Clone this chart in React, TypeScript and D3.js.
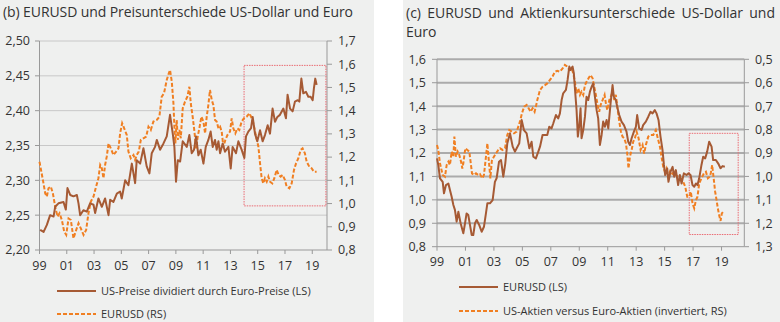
import React, { useMemo } from 'react';
import * as d3 from 'd3';

// ---------- DATA ----------
const xTickYears = [1999, 2001, 2003, 2005, 2007, 2009, 2011, 2013, 2015, 2017, 2019];
const xTickLabels = ['99', '01', '03', '05', '07', '09', '11', '13', '15', '17', '19'];

const leftTicksLS = [2.2, 2.25, 2.3, 2.35, 2.4, 2.45, 2.5];
const leftTicksRS = [0.8, 0.9, 1.0, 1.1, 1.2, 1.3, 1.4, 1.5, 1.6, 1.7];
const rightTicksLS = [0.8, 0.9, 1.0, 1.1, 1.2, 1.3, 1.4, 1.5, 1.6];
const rightTicksRS = [0.5, 0.6, 0.7, 0.8, 0.9, 1.0, 1.1, 1.2, 1.3];

const titleB = '(b) EURUSD und Preisunterschiede US-Dollar und Euro';
const titleC1 = '(c) EURUSD und Aktienkursunterschiede US-Dollar und';
const titleC2 = 'Euro';
const legendB = ['US-Preise dividiert durch Euro-Preise (LS)', 'EURUSD (RS)'];
const legendC = ['EURUSD (LS)', 'US-Aktien versus Euro-Aktien (invertiert, RS)'];

// (b) US prices / Euro prices (LS)
const priceRatio: [number, number][] = [
  [1999.05, 2.229], [1999.3, 2.226], [1999.54, 2.236], [1999.78, 2.25], [2000.03, 2.248], [2000.15, 2.262],
  [2000.39, 2.267], [2000.76, 2.269], [2000.93, 2.258], [2001.05, 2.289], [2001.25, 2.279], [2001.49, 2.277],
  [2001.74, 2.279], [2001.86, 2.267], [2001.98, 2.25], [2002.22, 2.257], [2002.47, 2.255], [2002.71, 2.267],
  [2002.96, 2.265], [2003.08, 2.253], [2003.32, 2.274], [2003.57, 2.262], [2003.81, 2.274], [2004.06, 2.25],
  [2004.18, 2.272], [2004.42, 2.269], [2004.67, 2.281], [2004.91, 2.284], [2005.03, 2.274], [2005.28, 2.3],
  [2005.52, 2.293], [2005.77, 2.324], [2006.01, 2.296], [2006.13, 2.329], [2006.38, 2.324], [2006.62, 2.346],
  [2006.86, 2.32], [2007.06, 2.31], [2007.23, 2.339], [2007.47, 2.348], [2007.6, 2.358], [2007.84, 2.344],
  [2008.09, 2.353], [2008.33, 2.363], [2008.57, 2.394], [2008.77, 2.367], [2008.89, 2.348], [2009.01, 2.298],
  [2009.14, 2.329], [2009.31, 2.327], [2009.5, 2.356], [2009.8, 2.348], [2009.99, 2.365], [2010.16, 2.339],
  [2010.33, 2.344], [2010.48, 2.363], [2010.65, 2.336], [2010.82, 2.344], [2011.02, 2.324], [2011.19, 2.348],
  [2011.38, 2.358], [2011.55, 2.37], [2011.7, 2.348], [2011.87, 2.358], [2011.99, 2.344], [2012.12, 2.356],
  [2012.24, 2.339], [2012.43, 2.353], [2012.6, 2.341], [2012.85, 2.348], [2013.02, 2.317], [2013.16, 2.348],
  [2013.41, 2.339], [2013.58, 2.356], [2013.82, 2.344], [2014.02, 2.332], [2014.14, 2.363], [2014.31, 2.37],
  [2014.51, 2.375], [2014.63, 2.391], [2014.8, 2.367], [2014.97, 2.356], [2015.17, 2.372], [2015.36, 2.356],
  [2015.53, 2.365], [2015.73, 2.379], [2015.9, 2.367], [2016.09, 2.403], [2016.27, 2.384], [2016.44, 2.391],
  [2016.63, 2.394], [2016.88, 2.403], [2017.07, 2.389], [2017.19, 2.423], [2017.37, 2.403], [2017.56, 2.399],
  [2017.73, 2.413], [2017.93, 2.415], [2018.05, 2.413], [2018.2, 2.446], [2018.34, 2.425], [2018.54, 2.427],
  [2018.71, 2.42], [2018.88, 2.42], [2019.03, 2.415], [2019.12, 2.432], [2019.22, 2.446], [2019.32, 2.437],
];

// (b) EURUSD (RS)
const eurusdB: [number, number][] = [
  [1999.0, 1.18], [1999.25, 1.101], [1999.42, 1.044], [1999.54, 1.03], [1999.66, 1.066], [1999.83, 1.073],
  [1999.98, 1.044], [2000.15, 0.987], [2000.32, 0.944], [2000.47, 0.958], [2000.64, 0.929], [2000.81, 0.879],
  [2000.96, 0.865], [2001.13, 0.936], [2001.3, 0.929], [2001.42, 0.879], [2001.49, 0.85], [2001.69, 0.886],
  [2001.86, 0.915], [2002.03, 0.893], [2002.23, 0.865], [2002.42, 0.886], [2002.59, 0.958], [2002.76, 1.008],
  [2002.96, 1.03], [2003.15, 1.073], [2003.32, 1.109], [2003.45, 1.166], [2003.57, 1.152], [2003.69, 1.109],
  [2003.81, 1.166], [2003.93, 1.202], [2004.06, 1.259], [2004.23, 1.238], [2004.42, 1.209], [2004.62, 1.224],
  [2004.79, 1.238], [2004.91, 1.302], [2005.06, 1.346], [2005.21, 1.324], [2005.4, 1.295], [2005.52, 1.224],
  [2005.69, 1.195], [2005.89, 1.209], [2006.01, 1.188], [2006.13, 1.209], [2006.28, 1.224], [2006.43, 1.274],
  [2006.62, 1.281], [2006.82, 1.288], [2006.99, 1.331], [2007.16, 1.317], [2007.35, 1.353], [2007.6, 1.36],
  [2007.79, 1.374], [2007.96, 1.46], [2008.13, 1.475], [2008.33, 1.532], [2008.48, 1.561], [2008.57, 1.575],
  [2008.7, 1.525], [2008.82, 1.432], [2008.89, 1.331], [2008.96, 1.259], [2009.06, 1.36], [2009.14, 1.274],
  [2009.26, 1.317], [2009.36, 1.281], [2009.5, 1.41], [2009.67, 1.439], [2009.84, 1.46], [2009.99, 1.503],
  [2010.09, 1.432], [2010.23, 1.374], [2010.36, 1.31], [2010.48, 1.238], [2010.6, 1.288], [2010.72, 1.324],
  [2010.87, 1.374], [2011.02, 1.353], [2011.14, 1.302], [2011.26, 1.374], [2011.38, 1.424], [2011.5, 1.489],
  [2011.63, 1.446], [2011.75, 1.424], [2011.87, 1.36], [2011.99, 1.353], [2012.12, 1.324], [2012.24, 1.331],
  [2012.36, 1.31], [2012.48, 1.245], [2012.63, 1.274], [2012.78, 1.295], [2012.97, 1.31], [2013.09, 1.367],
  [2013.21, 1.324], [2013.36, 1.302], [2013.51, 1.324], [2013.65, 1.317], [2013.82, 1.353], [2013.99, 1.367],
  [2014.19, 1.374], [2014.39, 1.389], [2014.51, 1.374], [2014.68, 1.346], [2014.88, 1.288], [2015.05, 1.245],
  [2015.17, 1.173], [2015.29, 1.109], [2015.41, 1.087], [2015.53, 1.109], [2015.66, 1.094], [2015.78, 1.116],
  [2015.9, 1.094], [2016.07, 1.087], [2016.22, 1.109], [2016.39, 1.145], [2016.54, 1.123], [2016.68, 1.116],
  [2016.83, 1.123], [2017.0, 1.101], [2017.12, 1.073], [2017.32, 1.066], [2017.49, 1.087], [2017.66, 1.145],
  [2017.81, 1.173], [2017.98, 1.195], [2018.15, 1.231], [2018.29, 1.238], [2018.46, 1.216], [2018.59, 1.18],
  [2018.78, 1.159], [2018.95, 1.152], [2019.12, 1.137], [2019.32, 1.137],
];

// (c) EURUSD (LS)
const eurusdC: [number, number][] = [
  [1999.0, 1.177], [1999.09, 1.149], [1999.21, 1.092], [1999.4, 1.077], [1999.49, 1.028], [1999.63, 1.063],
  [1999.8, 1.07], [1999.91, 1.042], [2000.03, 1.013], [2000.15, 0.978], [2000.26, 0.957], [2000.38, 0.907],
  [2000.5, 0.949], [2000.66, 0.9], [2000.85, 0.857], [2000.97, 0.9], [2001.08, 0.942], [2001.2, 0.935],
  [2001.32, 0.892], [2001.44, 0.85], [2001.55, 0.85], [2001.67, 0.9], [2001.79, 0.914], [2001.97, 0.892],
  [2002.14, 0.864], [2002.3, 0.885], [2002.44, 0.942], [2002.54, 0.985], [2002.72, 0.985], [2002.91, 0.999],
  [2003.07, 1.077], [2003.19, 1.092], [2003.36, 1.163], [2003.5, 1.17], [2003.66, 1.099], [2003.8, 1.156],
  [2003.94, 1.241], [2004.13, 1.284], [2004.32, 1.227], [2004.48, 1.206], [2004.6, 1.22], [2004.78, 1.241],
  [2004.95, 1.341], [2005.11, 1.298], [2005.3, 1.284], [2005.49, 1.22], [2005.65, 1.248], [2005.77, 1.184],
  [2005.95, 1.177], [2006.12, 1.206], [2006.24, 1.227], [2006.42, 1.277], [2006.59, 1.277], [2006.75, 1.277],
  [2006.89, 1.312], [2007.05, 1.305], [2007.17, 1.326], [2007.36, 1.362], [2007.52, 1.348], [2007.64, 1.369],
  [2007.76, 1.426], [2007.87, 1.455], [2008.06, 1.469], [2008.18, 1.512], [2008.3, 1.569], [2008.39, 1.554],
  [2008.53, 1.569], [2008.62, 1.54], [2008.72, 1.455], [2008.81, 1.383], [2008.9, 1.27], [2009.0, 1.319],
  [2009.09, 1.391], [2009.16, 1.263], [2009.28, 1.298], [2009.4, 1.355], [2009.51, 1.44], [2009.63, 1.426],
  [2009.75, 1.462], [2009.87, 1.483], [2009.98, 1.497], [2010.1, 1.44], [2010.22, 1.383], [2010.33, 1.348],
  [2010.45, 1.234], [2010.57, 1.277], [2010.68, 1.334], [2010.8, 1.312], [2010.92, 1.341], [2011.04, 1.305],
  [2011.2, 1.412], [2011.34, 1.49], [2011.43, 1.44], [2011.57, 1.426], [2011.69, 1.391], [2011.81, 1.362],
  [2011.97, 1.334], [2012.14, 1.319], [2012.32, 1.291], [2012.44, 1.248], [2012.56, 1.234], [2012.68, 1.263],
  [2012.84, 1.291], [2012.98, 1.312], [2013.07, 1.362], [2013.21, 1.305], [2013.38, 1.298], [2013.49, 1.319],
  [2013.68, 1.334], [2013.85, 1.355], [2014.01, 1.376], [2014.15, 1.369], [2014.31, 1.383], [2014.43, 1.369],
  [2014.57, 1.341], [2014.71, 1.27], [2014.85, 1.213], [2014.95, 1.149], [2015.04, 1.106], [2015.18, 1.134],
  [2015.27, 1.077], [2015.41, 1.12], [2015.56, 1.141], [2015.67, 1.099], [2015.79, 1.127], [2015.95, 1.063],
  [2016.07, 1.106], [2016.19, 1.07], [2016.35, 1.113], [2016.54, 1.106], [2016.68, 1.113], [2016.82, 1.106],
  [2016.96, 1.063], [2017.08, 1.056], [2017.2, 1.07], [2017.31, 1.063], [2017.43, 1.092], [2017.59, 1.149],
  [2017.71, 1.184], [2017.85, 1.177], [2017.99, 1.206], [2018.13, 1.248], [2018.3, 1.227], [2018.41, 1.17],
  [2018.6, 1.17], [2018.76, 1.156], [2018.93, 1.135], [2019.07, 1.144], [2019.23, 1.141],
];

// (c) US equities vs Euro equities (inverted, RS)
const equitiesC: [number, number][] = [
  [1999.0, 0.866], [1999.09, 0.887], [1999.21, 0.944], [1999.4, 0.994], [1999.56, 1.001], [1999.68, 0.951],
  [1999.8, 0.937], [1999.91, 0.951], [2000.03, 0.894], [2000.15, 0.916], [2000.22, 0.83], [2000.33, 0.916],
  [2000.45, 0.894], [2000.57, 0.909], [2000.69, 0.937], [2000.78, 0.966], [2000.85, 0.944], [2000.99, 0.88],
  [2001.13, 0.887], [2001.27, 0.894], [2001.36, 0.937], [2001.46, 0.987], [2001.6, 0.994], [2001.74, 0.987],
  [2001.9, 0.994], [2002.02, 0.99], [2002.18, 1.008], [2002.3, 0.994], [2002.44, 0.916], [2002.54, 0.859],
  [2002.63, 0.923], [2002.75, 1.008], [2002.86, 0.93], [2003.0, 0.916], [2003.14, 0.902], [2003.31, 0.887],
  [2003.43, 0.88], [2003.61, 0.887], [2003.78, 0.88], [2003.94, 0.823], [2004.08, 0.802], [2004.25, 0.809],
  [2004.41, 0.816], [2004.6, 0.809], [2004.71, 0.788], [2004.83, 0.766], [2004.97, 0.731], [2005.13, 0.702],
  [2005.3, 0.695], [2005.44, 0.709], [2005.58, 0.724], [2005.72, 0.709], [2005.86, 0.724], [2005.95, 0.702],
  [2006.05, 0.674], [2006.24, 0.631], [2006.42, 0.617], [2006.59, 0.61], [2006.75, 0.603], [2006.94, 0.588],
  [2007.12, 0.574], [2007.29, 0.553], [2007.45, 0.549], [2007.64, 0.553], [2007.83, 0.539], [2007.99, 0.524],
  [2008.16, 0.531], [2008.3, 0.546], [2008.46, 0.539], [2008.58, 0.56], [2008.69, 0.596], [2008.81, 0.645],
  [2008.93, 0.624], [2009.05, 0.652], [2009.16, 0.638], [2009.28, 0.652], [2009.4, 0.61], [2009.51, 0.596],
  [2009.65, 0.581], [2009.79, 0.567], [2009.94, 0.581], [2010.05, 0.617], [2010.17, 0.652], [2010.29, 0.695],
  [2010.4, 0.724], [2010.5, 0.695], [2010.64, 0.674], [2010.78, 0.652], [2010.87, 0.688], [2010.97, 0.717],
  [2011.11, 0.674], [2011.22, 0.66], [2011.34, 0.638], [2011.46, 0.674], [2011.57, 0.652], [2011.69, 0.709],
  [2011.81, 0.766], [2011.93, 0.809], [2012.04, 0.83], [2012.16, 0.837], [2012.28, 0.859], [2012.37, 0.902],
  [2012.46, 0.966], [2012.56, 0.916], [2012.68, 0.887], [2012.79, 0.852], [2012.91, 0.837], [2013.03, 0.809],
  [2013.17, 0.837], [2013.31, 0.887], [2013.45, 0.866], [2013.56, 0.902], [2013.68, 0.866], [2013.85, 0.83],
  [2014.01, 0.823], [2014.2, 0.823], [2014.38, 0.802], [2014.52, 0.837], [2014.67, 0.873], [2014.78, 0.916],
  [2014.9, 0.959], [2015.02, 0.98], [2015.13, 0.966], [2015.25, 1.001], [2015.37, 0.98], [2015.48, 0.994],
  [2015.65, 0.98], [2015.79, 0.994], [2015.95, 1.001], [2016.12, 1.008], [2016.3, 1.023], [2016.45, 1.044],
  [2016.59, 1.087], [2016.73, 1.087], [2016.84, 1.065], [2016.96, 1.115], [2017.08, 1.136], [2017.2, 1.101],
  [2017.31, 1.087], [2017.43, 1.03], [2017.59, 1.008], [2017.76, 0.987], [2017.9, 0.98], [2018.04, 1.008],
  [2018.18, 1.001], [2018.25, 0.984], [2018.34, 0.951], [2018.46, 1.015], [2018.55, 1.065], [2018.65, 1.101],
  [2018.74, 1.136], [2018.83, 1.165], [2018.93, 1.19], [2019.02, 1.158], [2019.12, 1.151],
];

// highlight boxes [yearStart, yearEnd, valueTop, valueBottom] on the RS (b) / LS (c) scale
const boxB = [2014.0, 2020.0, 1.595, 0.99];
const boxC = [2016.73, 2020.17, 1.284, 0.852];

// ---------- STYLE ----------
const FONT = '"Open Sans", sans-serif';
const BROWN = '#a65a34';
const ORANGE = '#f07f22';
const TEXT = '#333333';
const BG = '#eff0ef';

const fmt2 = (v: number) => d3.format('.2f')(v).replace('.', ',');
const fmt1 = (v: number) => d3.format('.1f')(v).replace('.', ',');

function justify(words: string[], x0: number, x1: number, font: string) {
  const ctx = document.createElement('canvas').getContext('2d')!;
  ctx.font = font;
  const widths = words.map((w) => ctx.measureText(w).width);
  const gap = (x1 - x0 - d3.sum(widths)) / (words.length - 1);
  let x = x0;
  return words.map((w, i) => {
    const p = x;
    x += widths[i] + gap;
    return p;
  });
}

export default function App() {
  // Panel (b)
  const xB = d3.scaleLinear().domain([1999, 2020.08]).range([39.5, 327]);
  const yBL = d3.scaleLinear().domain([2.2, 2.5]).range([250, 41]);
  const yBR = d3.scaleLinear().domain([0.8, 1.7]).range([250, 41]);
  // Panel (c)
  const xC = d3.scaleLinear().domain([1999, 2020.6]).range([437, 744.3]);
  const yCL = d3.scaleLinear().domain([0.8, 1.6]).range([246.7, 59.3]);
  const yCR = d3.scaleLinear().domain([0.5, 1.3]).range([59.3, 246.7]);

  const lineBL = d3.line<[number, number]>().x((d) => xB(d[0])).y((d) => yBL(d[1]));
  const lineBR = d3.line<[number, number]>().x((d) => xB(d[0])).y((d) => yBR(d[1]));
  const lineCL = d3.line<[number, number]>().x((d) => xC(d[0])).y((d) => yCL(d[1]));
  const lineCR = d3.line<[number, number]>().x((d) => xC(d[0])).y((d) => yCR(d[1]));

  const titleFs = 14;
  const titleFont = `${titleFs}px ${FONT}`;
  const c1Words = titleC1.split(' ');
  const c1X = useMemo(() => justify(c1Words, 406, 775, titleFont), []);

  const dash = '4 2';
  const tickFs = 12.5;
  const legFs = 11;

  return (
    <svg width={780} height={322} style={{ position: 'absolute', left: 0, top: 0 }} fontFamily={FONT}>
      <rect x={0} y={0} width={780} height={322} fill="#ffffff" />
      <rect x={0} y={0} width={374} height={322} fill={BG} />
      <rect x={403} y={0} width={377} height={322} fill={BG} />

      {/* ---------- Panel (b) ---------- */}
      <text x={3} y={17} fontSize={titleFs} fill={TEXT} textLength={350} lengthAdjust="spacing">{titleB}</text>
      {leftTicksLS.map((t) => (
        <g key={'bl' + t}>
          {t > 2.2 && <line x1={xB(1999)} x2={327} y1={yBL(t)} y2={yBL(t)} stroke="#c8c8c8" strokeWidth={1} />}
          <line x1={35} x2={39.5} y1={yBL(t)} y2={yBL(t)} stroke="#999" />
          <text x={30} y={yBL(t)} dy="0.35em" textAnchor="end" fontSize={tickFs} fill={TEXT}>{fmt2(t)}</text>
        </g>
      ))}
      {leftTicksRS.map((t) => (
        <g key={'br' + t}>
          <line x1={327} x2={332} y1={yBR(t)} y2={yBR(t)} stroke="#999" />
          <text x={338} y={yBR(t)} dy="0.35em" textAnchor="start" fontSize={tickFs} fill={TEXT}>{fmt1(t)}</text>
        </g>
      ))}
      <line x1={39.5} x2={39.5} y1={41} y2={250} stroke="#999" />
      <line x1={327} x2={327} y1={41} y2={250} stroke="#999" />
      <line x1={39.5} x2={327} y1={250} y2={250} stroke="#999" />
      {xTickYears.map((yr, i) => (
        <g key={'bx' + yr}>
          <line x1={xB(yr)} x2={xB(yr)} y1={250} y2={254} stroke="#999" />
          <text x={xB(yr)} y={266} dy="0.35em" textAnchor="middle" fontSize={tickFs} fill={TEXT}>{xTickLabels[i]}</text>
        </g>
      ))}
      <rect x={xB(boxB[0])} y={yBR(boxB[2])} width={xB(boxB[1]) - xB(boxB[0])} height={yBR(boxB[3]) - yBR(boxB[2])}
        fill="none" stroke="#ea6b73" strokeWidth={1} strokeDasharray="1.5 1" />
      <path d={lineBR(eurusdB)!} fill="none" stroke={ORANGE} strokeWidth={2} strokeDasharray={dash} />
      <path d={lineBL(priceRatio)!} fill="none" stroke={BROWN} strokeWidth={2} strokeLinejoin="round" />

      <line x1={57} x2={96} y1={291} y2={291} stroke={BROWN} strokeWidth={2} />
      <text x={101} y={291} dy="0.35em" fontSize={legFs} fill={TEXT}>{legendB[0]}</text>
      <line x1={57} x2={96} y1={314} y2={314} stroke={ORANGE} strokeWidth={2} strokeDasharray={dash} />
      <text x={101} y={314} dy="0.35em" fontSize={legFs} fill={TEXT}>{legendB[1]}</text>

      {/* ---------- Panel (c) ---------- */}
      {c1Words.map((w, i) => (
        <text key={'t' + i} x={c1X[i]} y={18} fontSize={titleFs} fill={TEXT}>{w}</text>
      ))}
      <text x={406} y={37} fontSize={titleFs} fill={TEXT}>{titleC2}</text>
      {rightTicksLS.map((t) => (
        <g key={'cl' + t}>
          {t > 0.8 && <line x1={437} x2={744.3} y1={yCL(t)} y2={yCL(t)} stroke="#ababab" strokeWidth={2} />}
          <line x1={432} x2={437} y1={yCL(t)} y2={yCL(t)} stroke="#999" />
          <text x={426} y={yCL(t)} dy="0.35em" textAnchor="end" fontSize={tickFs} fill={TEXT}>{fmt1(t)}</text>
        </g>
      ))}
      {rightTicksRS.map((t) => (
        <g key={'cr' + t}>
          <line x1={744.3} x2={749} y1={yCR(t)} y2={yCR(t)} stroke="#999" />
          <text x={755} y={yCR(t)} dy="0.35em" textAnchor="start" fontSize={tickFs} fill={TEXT}>{fmt1(t)}</text>
        </g>
      ))}
      <line x1={437} x2={437} y1={59.3} y2={246.7} stroke="#999" />
      <line x1={744.3} x2={744.3} y1={59.3} y2={246.7} stroke="#999" />
      <line x1={437} x2={744.3} y1={246.7} y2={246.7} stroke="#999" />
      {xTickYears.map((yr, i) => (
        <g key={'cx' + yr}>
          <line x1={xC(yr)} x2={xC(yr)} y1={246.7} y2={250.7} stroke="#999" />
          <text x={xC(yr)} y={262} dy="0.35em" textAnchor="middle" fontSize={tickFs} fill={TEXT}>{xTickLabels[i]}</text>
        </g>
      ))}
      <rect x={xC(boxC[0])} y={yCL(boxC[2])} width={xC(boxC[1]) - xC(boxC[0])} height={yCL(boxC[3]) - yCL(boxC[2])}
        fill="none" stroke="#ea6b73" strokeWidth={1} strokeDasharray="1.5 1" />
      <path d={lineCR(equitiesC)!} fill="none" stroke={ORANGE} strokeWidth={2} strokeDasharray={dash} />
      <path d={lineCL(eurusdC)!} fill="none" stroke={BROWN} strokeWidth={2} strokeLinejoin="round" />

      <line x1={459} x2={498} y1={287} y2={287} stroke={BROWN} strokeWidth={2} />
      <text x={503} y={287} dy="0.35em" fontSize={legFs} fill={TEXT}>{legendC[0]}</text>
      <line x1={459} x2={498} y1={311} y2={311} stroke={ORANGE} strokeWidth={2} strokeDasharray={dash} />
      <text x={503} y={311} dy="0.35em" fontSize={legFs} fill={TEXT}>{legendC[1]}</text>
    </svg>
  );
}
